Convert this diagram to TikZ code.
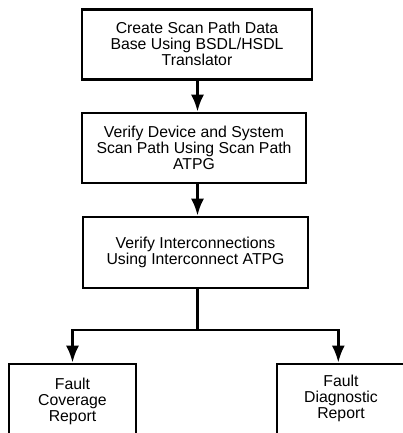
\documentclass[tikz,border=0pt]{standalone}
\usepackage{fontspec}
\setmainfont{Liberation Sans}
\usetikzlibrary{arrows.meta}

\begin{document}
\begin{tikzpicture}[
  x=1pt, y=1pt,
  line join=miter,
  font=\fontsize{15.8}{16}\selectfont,
  stepbox/.style={draw=black, line width=2.7pt, align=center, inner sep=0pt, minimum height=70pt},
  reportbox/.style={stepbox, anchor=north, minimum height=75pt},
  flow/.style={-{Latex[length=17pt,width=13pt]}, line width=2.7pt, draw=black},
  link/.style={line width=2.7pt, draw=black}
]

\def\spineX{197.5}
\def\forkY{-330}
\def\reportTop{-362.65}

\useasboundingbox (0,0) rectangle (402,-433);

% Scan path steps.
\node[stepbox, minimum width=230pt] (scanBox) at (197,-44.3)
  {Create Scan Path Data\\Base Using BSDL/HSDL\\Translator};
\node[stepbox, minimum width=224pt] (verifyBox) at (194,-148)
  {Verify Device and System\\Scan Path Using Scan Path\\ATPG};
\node[stepbox, minimum width=225pt, minimum height=71pt] (interBox) at (195.5,-252.5)
  {Verify Interconnections\\Using Interconnect ATPG};

% Reports.
\node[reportbox, minimum width=127pt] (coverageBox) at (72.5,\reportTop)
  {Fault\\Coverage\\Report};
\node[reportbox, anchor=north west, minimum width=128pt, text depth=10pt] (diagnosticBox) at (275.65,\reportTop)
  {Fault\\Diagnostic\\Report};

% Flow along the spine.
\coordinate (spineTop) at (\spineX,0);
\coordinate (fork) at (\spineX,\forkY);
\coordinate (rightDrop) at (338.3,\reportTop);

\draw[flow] (scanBox.south -| spineTop) -- (verifyBox.north -| spineTop);
\draw[flow] (verifyBox.south -| spineTop) -- (interBox.north -| spineTop);
\draw[link] (interBox.south -| spineTop) -- (fork);
\draw[flow] (fork) -| (coverageBox.north);
\draw[flow] (fork) -| (rightDrop);

\end{tikzpicture}
\end{document}
